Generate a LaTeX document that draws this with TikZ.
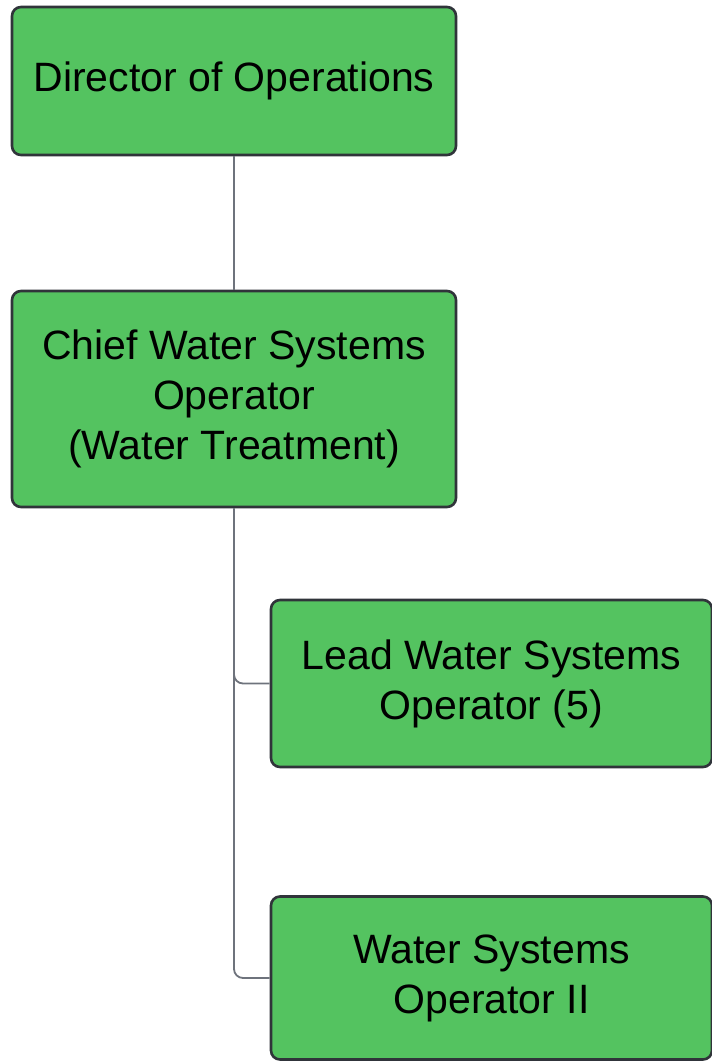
\documentclass[tikz,border=0pt]{standalone}
\usepackage{fontspec}
\setmainfont{Liberation Sans}
\definecolor{boxgreen}{HTML}{54C360}
\definecolor{boxborder}{HTML}{30343A}
\definecolor{linegray}{HTML}{6E737C}
\begin{document}
\begin{tikzpicture}[x=1pt,y=-1pt,
  orgbox/.style={draw=boxborder, line width=2.6pt, fill=boxgreen, rounded corners=9pt,
    align=center, inner sep=0pt, font=\fontsize{41}{50}\selectfont, text=black},
  conn/.style={draw=linegray, line width=1.8pt, rounded corners=9pt}]
\useasboundingbox (0,0) rectangle (712,1061);
\node[orgbox, minimum width=444pt, minimum height=148pt] (dir) at (234,81) {Director of Operations};
\node[orgbox, minimum width=444pt, minimum height=216pt] (chief) at (234,399) {Chief Water Systems\\Operator\\(Water Treatment)};
\node[orgbox, minimum width=441pt, minimum height=167pt] (lead) at (491.5,683.5) {Lead Water Systems\\Operator (5)};
\node[orgbox, minimum width=441pt, minimum height=163pt] (wso) at (491.5,978) {Water Systems\\Operator II};
\draw[conn] (dir.south) -- (chief.north);
\draw[conn] (chief.south) |- (lead.west);
\draw[conn] (chief.south) |- (wso.west);
\end{tikzpicture}
\end{document}
